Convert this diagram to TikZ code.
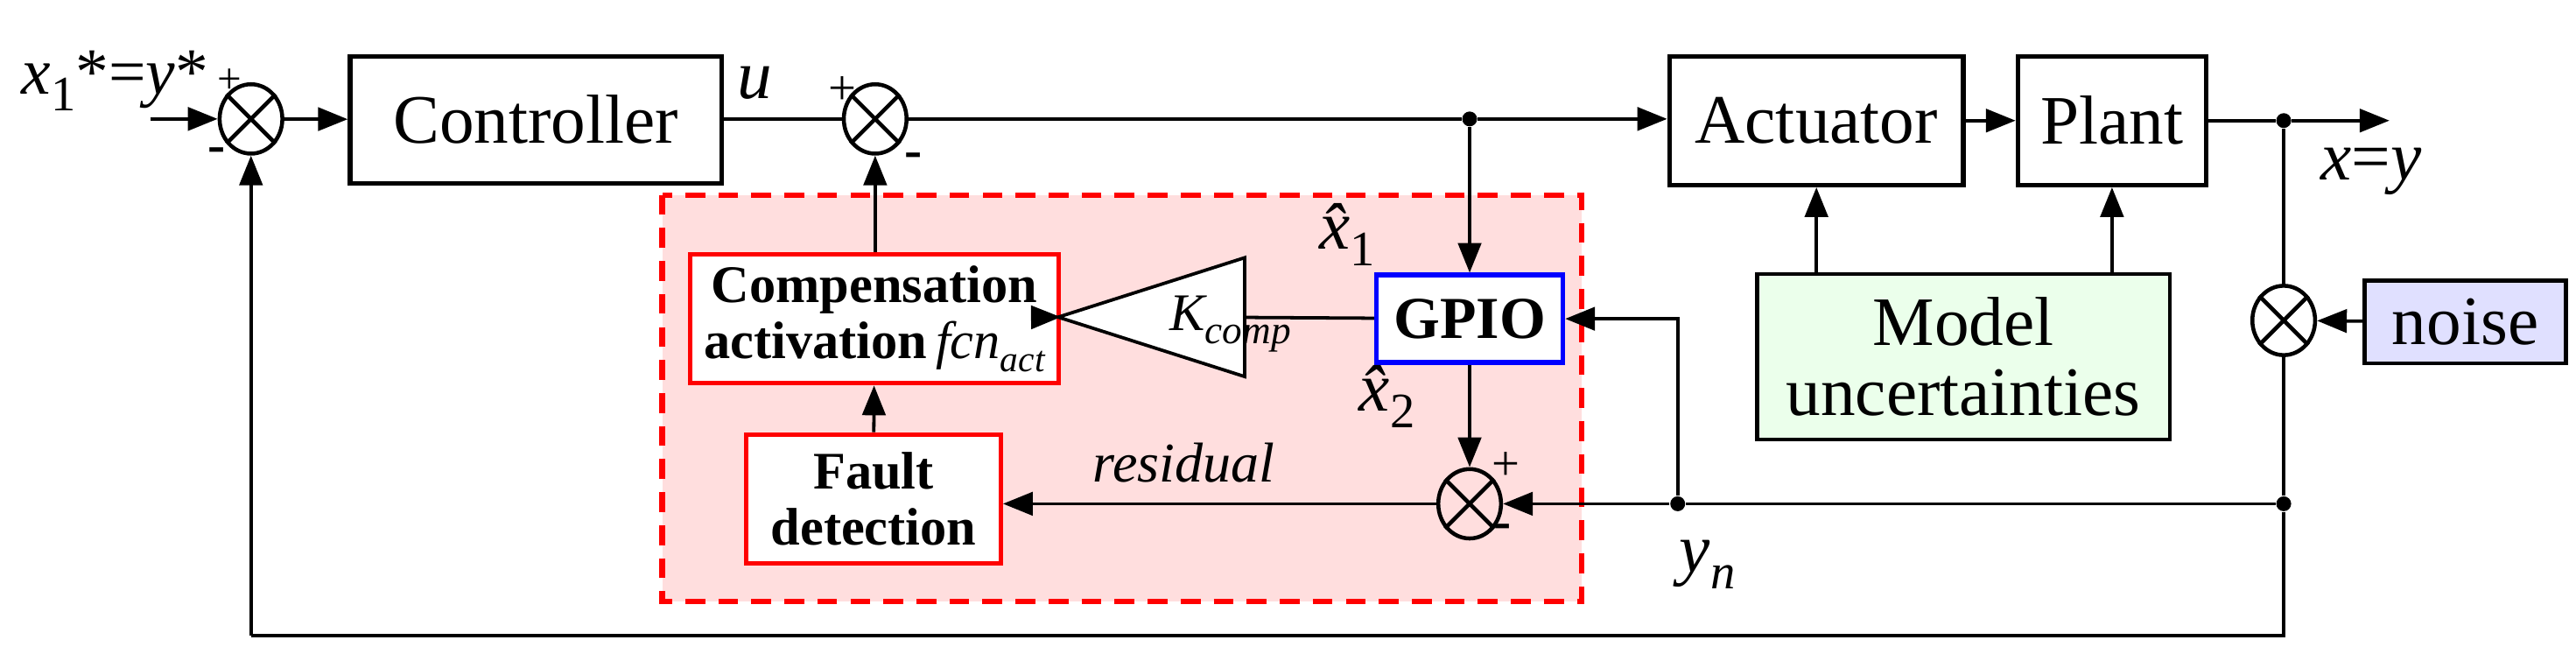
\documentclass[tikz,border=0pt]{standalone}
\usepackage{fontspec}
\setmainfont{LiberationSerif-Regular.ttf}[BoldFont=LiberationSerif-Bold.ttf,ItalicFont=LiberationSerif-Italic.ttf,BoldItalicFont=LiberationSerif-BoldItalic.ttf]
\newcommand\tnr{\rmfamily}
\newcommand\sbx[1]{\raisebox{-5pt}{\upshape\fontsize{15}{15}\selectfont #1}}
\usetikzlibrary{arrows.meta,shapes.geometric}
\begin{document}
\begin{tikzpicture}[x=0.5pt,y=-0.5pt,font=\tnr,
  blk/.style={draw,line width=1.4pt,inner sep=0pt},
  sumj/.style={draw,ellipse,line width=1.2pt,minimum width=19pt,minimum height=21pt,inner sep=0pt},
  arr/.style={-{Triangle[length=9pt,width=7pt]},line width=1pt},
  ln/.style={line width=1pt},
  txt/.style={font=\tnr\fontsize{21}{22}\selectfont},
  itx/.style={font=\tnr\itshape\fontsize{21}{22}\selectfont},
  btxt/.style={font=\tnr\bfseries\fontsize{16}{17}\selectfont,align=center},
  dot/.style={circle,fill,inner sep=0pt,minimum size=4.5pt}]
\useasboundingbox (0,0) rectangle (1560,404);
% red region
\draw[red,fill=red!13,line width=1.6pt,dash pattern=on 6pt off 4pt] (401,118) rectangle (958,364);
% blocks
\node[blk,minimum width=112.5pt,minimum height=38.5pt,txt] (ctrl) at (324.5,72.5) {Controller};
\node[blk,minimum width=89pt,minimum height=39pt,txt] (act) at (1100,73) {Actuator};
\node[blk,minimum width=57pt,minimum height=39pt,txt] (plant) at (1279,73) {Plant};
\node[blk,fill=green!8!white,line width=1.2pt,minimum width=125pt,minimum height=50pt,txt,align=center] (mu) at (1189,216) {Model\\[-1pt]uncertainties};
\node[blk,fill=blue!12!white,line width=1.2pt,minimum width=61pt,minimum height=25pt,txt] (noise) at (1493,195) {noise};
\node[blk,draw=red,fill=white,minimum width=111.5pt,minimum height=39pt,btxt] (comp) at (529.5,193) {Compensation\\activation\,{\mdseries\itshape fcn\raisebox{-4pt}{\fontsize{11}{11}\selectfont act}}};
\node[blk,draw=red,fill=white,minimum width=77pt,minimum height=39pt,btxt] (fd) at (529,302) {Fault\\detection};
\node[blk,draw=blue,fill=white,minimum width=56.5pt,minimum height=26.5pt,font=\tnr\bfseries\fontsize{18}{20}\selectfont] (gpio) at (890,193) {GPIO};
\node[draw,isosceles triangle,shape border rotate=180,isosceles triangle stretches,fill=white,line width=1pt,minimum height=56.5pt,minimum width=36pt,inner sep=0pt] (k) at (727.5,192) {};
\node[font=\tnr\itshape\fontsize{16}{18}\selectfont] at (745,196) {K\raisebox{-4pt}{\fontsize{12}{12}\selectfont comp}};
% sums
\node[sumj] (s1) at (152,72) {};
\node[sumj] (s2) at (530,72) {};
\node[sumj] (s3) at (890,305) {};
\node[sumj] (s4) at (1383,194) {};
\foreach \s in {s1,s2,s3,s4}{\draw[line width=1.2pt] (\s.45)--(\s.225) (\s.135)--(\s.315);}
% dots
\node[dot] (d1) at (890,72) {};
\node[dot] (d2) at (1383,73) {};
\node[dot] (d3) at (1016,305) {};
\node[dot] (d4) at (1383,305) {};
\coordinate (in) at (91,72);
\coordinate (out) at (1447,73);
\coordinate (c1) at (1383,385);
\coordinate (c2) at (152,385);
\coordinate (c3) at (1016,193);
% connectors
\draw[arr] (in) -- (s1);
\draw[arr] (s1) -- (ctrl);
\draw[ln] (ctrl.east |- s2) -- (s2);
\draw[ln] (s2) -- (d1);
\draw[arr] (d1) -- (act.west |- d1);
\draw[arr] (act) -- (plant);
\draw[ln] (plant) -- (d2);
\draw[arr] (d2) -- (out);
\draw[arr] (mu.north -| act) -- (act);
\draw[arr] (mu.north -| plant) -- (plant);
\draw[ln] (d2) -- (s4);
\draw[arr] (noise) -- (s4);
\draw[ln] (s4) -- (d4);
\draw[ln] (d4) -- (d3);
\draw[arr] (d3) -- (s3);
\draw[arr] (d3) -- (c3) -- (gpio);
\draw[ln] (d4) -- (c1) -- (c2);
\draw[arr] (c2) -- (s1);
\draw[arr] (d1) -- (gpio);
\draw[arr] (gpio) -- (s3);
\draw[ln] (gpio) -- (k);
\draw[arr] (k.apex) -- (comp);
\draw[arr] (s3) -- (fd.east |- s3);
\draw[arr] (fd) -- (comp);
\draw[arr] (comp.north -| s2) -- (s2);
% labels
\node[font=\tnr\fontsize{20}{21}\selectfont,anchor=base west] at (6,57) {\textit{x}\sbx{1}*=\textit{y}*};
\node[font=\tnr\fontsize{13}{13}\selectfont] at (139,49) {+};
\node[font=\tnr\bfseries\fontsize{16}{16}\selectfont] at (131,94) {-};
\node[itx] at (457,50) {u};
\node[font=\tnr\fontsize{15}{15}\selectfont] at (510,55) {+};
\node[font=\tnr\bfseries\fontsize{16}{16}\selectfont] at (553,97) {-};
\node[font=\tnr\fontsize{15}{15}\selectfont] at (912,282) {+};
\node[font=\tnr\bfseries\fontsize{16}{16}\selectfont] at (910,322) {-};
\node[itx] at (816,142) {\^{x}\sbx{1}};
\node[itx] at (840,240) {\^{x}\sbx{2}};
\node[font=\tnr\itshape\fontsize{17}{18}\selectfont] at (717,280) {residual};
\node[itx] at (1034,342) {y\sbx{\itshape n}};
\node[txt] at (1436,104) {\textit{x}=\textit{y}};
\end{tikzpicture}
\end{document}
